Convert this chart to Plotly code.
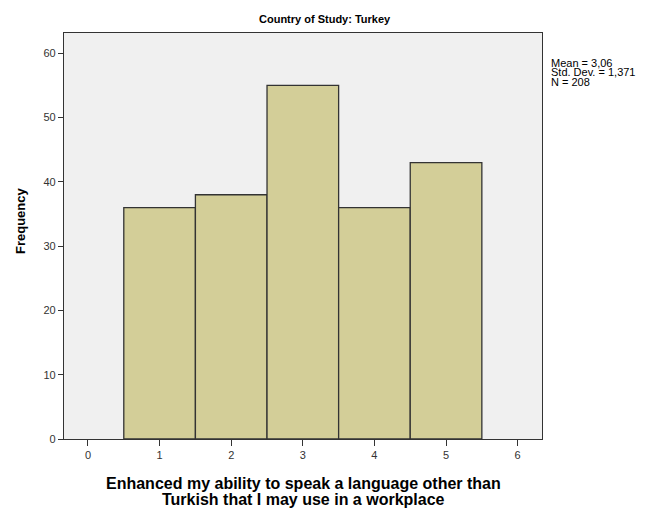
import plotly.graph_objects as go

# Histogram of responses, Country of Study: Turkey
scores = [1, 2, 3, 4, 5]
frequencies = [36, 38, 55, 36, 43]
x_ticks = [0, 1, 2, 3, 4, 5, 6]
y_ticks = [0, 10, 20, 30, 40, 50, 60]
stats_lines = ["Mean = 3,06", "Std. Dev. = 1,371", "N = 208"]
x_title_lines = [
    "Enhanced my ability to speak a language other than",
    "Turkish that I may use in a workplace",
]

FONT = "Liberation Sans, Arial, sans-serif"
BAR_COLOR = "#D3CE98"
EDGE = "#333333"

# the page body has an 8px margin, so the figure is drawn 8px smaller
# and all target positions below are page pixels
PAGE_W, PAGE_H, OFF = 646, 508, 8
L, R, T, B = 64, 542, 33, 439  # plot box in page pixels


def px_x(x):
    return (x - L) / (R - L)


def px_y(y):
    return (B - y) / (B - T)


fig = go.Figure()
fig.add_trace(
    go.Bar(
        x=scores,
        y=frequencies,
        width=1,
        marker=dict(color=BAR_COLOR, line=dict(color=EDGE, width=1.3)),
        hoverinfo="x+y",
    )
)

axis_common = dict(
    ticks="outside",
    tickcolor=EDGE,
    showgrid=False,
    zeroline=False,
    showline=True,
    linecolor=EDGE,
    linewidth=1.3,
    mirror=True,
    automargin=False,
    tickfont=dict(size=11, color="#333333"),
)

fig.update_layout(
    width=PAGE_W - OFF,
    height=PAGE_H - OFF,
    margin=dict(l=L - OFF, r=PAGE_W - R, t=T - OFF, b=PAGE_H - B),
    paper_bgcolor="white",
    plot_bgcolor="#F0F0F0",
    showlegend=False,
    font=dict(family=FONT, color="#222222", size=11),
    xaxis=dict(range=[-0.335, 6.34], tickvals=x_ticks, ticklen=6, **axis_common),
    yaxis=dict(range=[0, 63.16], tickvals=y_ticks, ticklen=5, **axis_common),
)

# chart title
fig.add_annotation(
    text="<b>Country of Study: Turkey</b>",
    xref="paper", yref="paper",
    x=px_x(325), y=px_y(19),
    xanchor="center", yanchor="middle",
    showarrow=False,
    font=dict(size=11, color="#000000"),
)

# x axis title, two lines placed separately for tight spacing
for line, ypix in zip(x_title_lines, [483, 499]):
    fig.add_annotation(
        text=f"<b>{line}</b>",
        xref="paper", yref="paper",
        x=px_x(303), y=px_y(ypix),
        xanchor="center", yanchor="middle",
        showarrow=False,
        font=dict(size=16, color="#000000"),
    )

# y axis title
fig.add_annotation(
    text="<b>Frequency</b>",
    xref="paper", yref="paper",
    x=px_x(20), y=px_y(221),
    xanchor="center", yanchor="middle",
    textangle=-90,
    showarrow=False,
    font=dict(size=13, color="#000000"),
)

# summary statistics
for line, ypix in zip(stats_lines, [63, 72.5, 82]):
    fig.add_annotation(
        text=line,
        xref="paper", yref="paper",
        x=px_x(549), y=px_y(ypix),
        xanchor="left", yanchor="middle",
        showarrow=False,
        font=dict(size=11, color="#000000"),
    )

fig.write_html("out.html")
